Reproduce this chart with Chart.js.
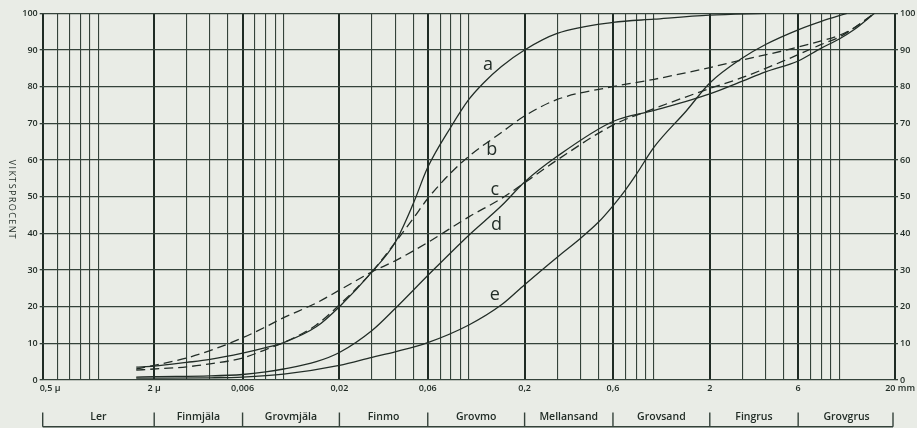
<!DOCTYPE html>
<html><head><meta charset="utf-8">
<script src="https://cdn.jsdelivr.net/npm/chart.js@4.4.1/dist/chart.umd.min.js"></script>
<style>html,body{margin:0;padding:0;background:#e9ece6;}canvas{display:block;}</style>
</head><body>
<canvas id="c" width="917" height="428"></canvas>
<script>
// ---- data (grain size in mm, cumulative weight percent) ----
const sizesA = [0.0016,0.002,0.003,0.004,0.006,0.008,0.01,0.015,0.02,0.03,0.04,0.05,0.06,0.08,0.1,0.12,0.15,0.2,0.3,0.6,1,2,4];
const pctA   = [3.5,3.8,4.8,5.6,7.3,8.8,10.2,14.5,20,29.5,37.5,48,58,69,76.5,81,85.5,90,94.5,97.5,98.4,99.5,100];

const sizesB = [0.0016,0.002,0.003,0.004,0.006,0.008,0.01,0.015,0.02,0.03,0.04,0.05,0.06,0.08,0.1,0.15,0.2,0.3,0.6,1,2,3,5,8,10,12,15.5];
const pctB   = [2.7,3,3.6,4.4,6,8.3,10.2,15,20.5,29.5,37.5,44,49.5,56.5,61,67.5,72,76.5,80,82,85.2,87.3,89.8,92.5,94,96,100];

const sizesC = [0.0016,0.002,0.003,0.004,0.006,0.008,0.01,0.015,0.02,0.03,0.04,0.06,0.1,0.15,0.2,0.3,0.6,1,2,3,5,8,10,12,15.5];
const pctC   = [3,4,6,8,11.5,14.5,17,21,24.5,29.5,32.5,37.5,44.5,49.5,53.8,60,69.5,74,79.5,82.5,87,91.5,93.5,96,100];

const sizesD = [0.0016,0.002,0.004,0.006,0.008,0.01,0.015,0.02,0.03,0.04,0.06,0.1,0.15,0.2,0.3,0.6,1,2,3,4,6,8,10,12,15.5];
const pctD   = [0.8,0.9,1.1,1.5,2.2,3,5,7.5,13.5,19.5,28.5,39.5,47.5,54,61,70.5,73.5,78,81.5,84,87,90.5,93,95.5,100];

const sizesE = [0.0016,0.004,0.006,0.01,0.02,0.03,0.04,0.06,0.1,0.15,0.2,0.3,0.4,0.5,0.6,0.7,0.8,1,1.5,2,3,4,6,8,11];
const pctE   = [0.5,0.6,0.8,1.6,4,6.2,7.7,10.2,15,20.5,26,33.5,38.6,43,47.5,51.8,56,63.5,73.5,81,87.8,91.5,95.5,97.8,100];

const curveNames = ['a','b','c','d','e'];
const curveLabelSizes = [0.127,0.133,0.138,0.141,0.138];
const curveLabelPcts  = [84.5,61.3,50.4,40.9,21.8];

// ---- axes ----
const gridSizes = [0.0005,0.0006,0.0007,0.0008,0.0009,0.001,
  0.002,0.003,0.004,0.005,0.006,0.007,0.008,0.009,0.01,
  0.02,0.03,0.04,0.05,0.06,0.07,0.08,0.09,0.1,
  0.2,0.3,0.4,0.5,0.6,0.7,0.8,0.9,1,
  2,3,4,5,6,7,8,9,10,20];
const heavySizes = [0.0005,0.002,0.006,0.02,0.06,0.2,0.6,2,6,20];
const xTickSizes  = [0.0005,0.002,0.006,0.02,0.06,0.2,0.6,2,6,20];
const xTickLabels = ['0,5 \u00b5','2 \u00b5','0,006','0,02','0,06','0,2','0,6','2','6','20 mm'];
const fractionBounds = [0.0005,0.002,0.006,0.02,0.06,0.2,0.6,2,6,20];
const fractionNames  = ['Ler','Finmjäla','Grovmjäla','Finmo','Grovmo','Mellansand','Grovsand','Fingrus','Grovgrus'];
const yTitle = 'VIKTSPROCENT';

const INK = '#222d27';
const GRID = '#34423a';
const BG = '#e9ece6';
Chart.defaults.font.family = "'Open Sans', 'DejaVu Sans', sans-serif";
Chart.defaults.color = INK;

const isHeavy = v => heavySizes.some(h => Math.abs(h - v) / h < 1e-6);
const mk = (s, p) => s.map((x, i) => ({x: x, y: p[i]}));

const series = [[sizesA,pctA,[]],[sizesB,pctB,[9,5]],[sizesC,pctC,[9,5]],[sizesD,pctD,[]],[sizesE,pctE,[]]];

const decor = {
  id: 'decor',
  beforeDraw(chart) {
    const c = chart.ctx;
    c.save(); c.fillStyle = BG; c.fillRect(0, 0, chart.width, chart.height); c.restore();
  },
  afterDraw(chart) {
    const c = chart.ctx, xs = chart.scales.x, ys = chart.scales.y, area = chart.chartArea;
    c.save();
    c.fillStyle = INK;
    // x tick labels
    c.font = "600 9px 'Open Sans'";
    c.textBaseline = 'middle';
    xTickSizes.forEach((v, i) => {
      const px = xs.getPixelForValue(v);
      const t = xTickLabels[i];
      if (i === 0) { c.textAlign = 'left'; c.fillText(t, px - 3, area.bottom + 8); }
      else if (i === xTickSizes.length - 1) {
        c.textAlign = 'right'; c.fillText(t, chart.width - 2, area.bottom + 8);
      } else { c.textAlign = 'center'; c.fillText(t, px, area.bottom + 8); }
    });
    // y title (reads top to bottom)
    c.save();
    c.translate(12, 200);
    c.rotate(Math.PI / 2);
    c.font = "9px 'Open Sans'";
    try { c.letterSpacing = '1.4px'; } catch (e) {}
    c.textAlign = 'center'; c.textBaseline = 'middle';
    c.fillText(yTitle, 0, 0);
    c.restore();
    // curve labels
    c.font = "18px 'Open Sans'";
    c.textAlign = 'center'; c.textBaseline = 'alphabetic';
    curveNames.forEach((n, i) => {
      c.fillText(n, xs.getPixelForValue(curveLabelSizes[i]), ys.getPixelForValue(curveLabelPcts[i]));
    });
    // fraction row
    const yb = 426.7, yt = 412.5;
    c.strokeStyle = GRID; c.lineWidth = 1.4;
    c.beginPath();
    c.moveTo(xs.getPixelForValue(fractionBounds[0]), yb);
    c.lineTo(xs.getPixelForValue(fractionBounds[fractionBounds.length - 1]) - 2, yb);
    c.stroke();
    fractionBounds.forEach((v, i) => {
      let px = xs.getPixelForValue(v);
      if (i === fractionBounds.length - 1) px -= 2;
      c.beginPath(); c.moveTo(px, yt); c.lineTo(px, yb); c.stroke();
    });
    c.font = "600 10.5px 'Open Sans'";
    c.textAlign = 'center'; c.textBaseline = 'middle';
    fractionNames.forEach((n, i) => {
      const x0 = xs.getPixelForValue(fractionBounds[i]);
      const x1 = xs.getPixelForValue(fractionBounds[i + 1]);
      c.fillText(n, (x0 + x1) / 2, 417.5);
    });
    c.restore();
  }
};

new Chart(document.getElementById('c'), {
  type: 'line',
  data: {
    datasets: series.map((s, i) => ({
      label: curveNames[i],
      data: mk(s[0], s[1]),
      borderColor: INK,
      borderWidth: 1.3,
      borderDash: s[2],
      pointRadius: 0,
      fill: false,
      cubicInterpolationMode: 'monotone'
    }))
  },
  options: {
    responsive: false,
    devicePixelRatio: 1,
    animation: false,
    events: [],
    layout: { padding: { top: 13.3, left: 0, right: 0, bottom: 0 } },
    plugins: { legend: { display: false }, tooltip: { enabled: false } },
    scales: {
      x: {
        type: 'logarithmic',
        min: 0.0005, max: 20,
        afterBuildTicks: sc => { sc.ticks = gridSizes.map(v => ({ value: v })); },
        afterFit: sc => { sc.height = 48; },
        ticks: { display: false, autoSkip: false },
        border: { display: false },
        grid: {
          drawTicks: false,
          color: ctx => isHeavy(ctx.tick.value) ? '#1f2b24' : GRID,
          lineWidth: ctx => isHeavy(ctx.tick.value) ? 2 : 1.1
        }
      },
      y: {
        position: 'left',
        min: 0, max: 100,
        afterFit: sc => { sc.width = 42.7; },
        ticks: { stepSize: 10, padding: 2, font: { size: 9, weight: '600' }, color: INK },
        border: { display: false },
        grid: { color: GRID, lineWidth: 1.3, tickLength: 3 }
      },
      y2: {
        position: 'right',
        min: 0, max: 100,
        afterFit: sc => { sc.width = 22; },
        ticks: { stepSize: 10, padding: 2, font: { size: 9, weight: '600' }, color: INK },
        border: { display: false },
        grid: { drawOnChartArea: false, color: GRID, lineWidth: 1.3, tickLength: 3 }
      }
    }
  },
  plugins: [decor]
});
</script>
</body></html>
